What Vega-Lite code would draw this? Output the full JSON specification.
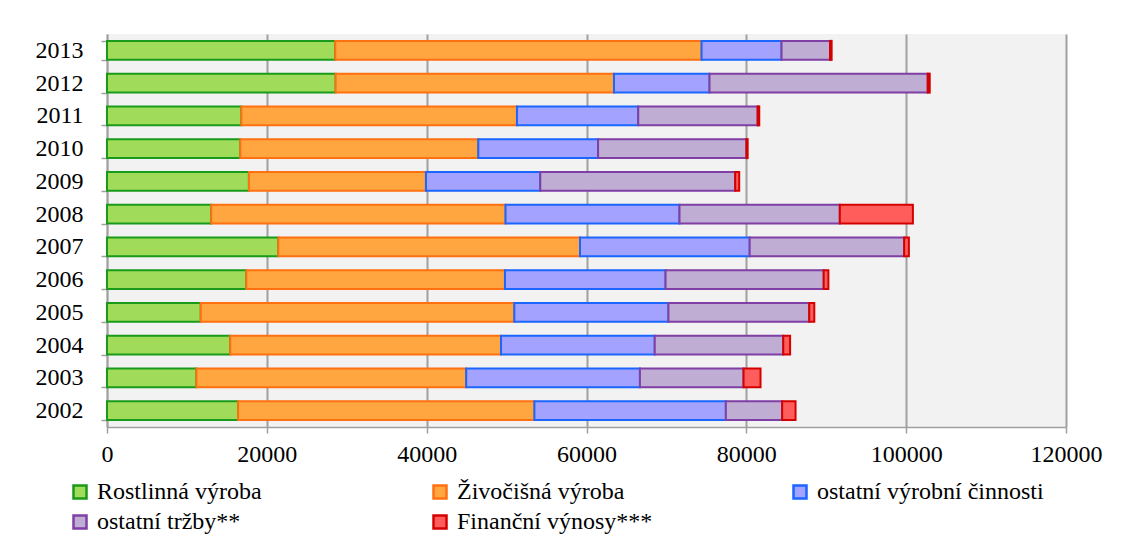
{
  "$schema": "https://vega.github.io/schema/vega-lite/v6.json",
  "autosize": {"type": "none"},
  "width": 959,
  "height": 393,
  "padding": {"left": 107, "top": 34, "right": 61, "bottom": 118},
  "background": "white",
  "config": {
    "font": "Liberation Serif, Times New Roman, serif",
    "axis": {"labelFont": "Liberation Serif, Times New Roman, serif"},
    "legend": {"labelFont": "Liberation Serif, Times New Roman, serif"},
    "view": {"fill": "#f2f2f2", "stroke": null}
  },
  "data": {
    "values": [
      {"rok": "2013", "kategorie": "Rostlinná výroba", "hodnota": 28565},
      {"rok": "2013", "kategorie": "Živočišná výroba", "hodnota": 45834},
      {"rok": "2013", "kategorie": "ostatní výrobní činnosti", "hodnota": 10007},
      {"rok": "2013", "kategorie": "ostatní tržby**", "hodnota": 6067},
      {"rok": "2013", "kategorie": "Finanční výnosy***", "hodnota": 200},
      {"rok": "2012", "kategorie": "Rostlinná výroba", "hodnota": 28610},
      {"rok": "2012", "kategorie": "Živočišná výroba", "hodnota": 34831},
      {"rok": "2012", "kategorie": "ostatní výrobní činnosti", "hodnota": 11954},
      {"rok": "2012", "kategorie": "ostatní tržby**", "hodnota": 27304},
      {"rok": "2012", "kategorie": "Finanční výnosy***", "hodnota": 250},
      {"rok": "2011", "kategorie": "Rostlinná výroba", "hodnota": 16816},
      {"rok": "2011", "kategorie": "Živočišná výroba", "hodnota": 34484},
      {"rok": "2011", "kategorie": "ostatní výrobní činnosti", "hodnota": 15175},
      {"rok": "2011", "kategorie": "ostatní tržby**", "hodnota": 14942},
      {"rok": "2011", "kategorie": "Finanční výnosy***", "hodnota": 200},
      {"rok": "2010", "kategorie": "Rostlinná výroba", "hodnota": 16682},
      {"rok": "2010", "kategorie": "Živočišná výroba", "hodnota": 29775},
      {"rok": "2010", "kategorie": "ostatní výrobní činnosti", "hodnota": 14992},
      {"rok": "2010", "kategorie": "ostatní tržby**", "hodnota": 18565},
      {"rok": "2010", "kategorie": "Finanční výnosy***", "hodnota": 150},
      {"rok": "2009", "kategorie": "Rostlinná výroba", "hodnota": 17758},
      {"rok": "2009", "kategorie": "Živočišná výroba", "hodnota": 22152},
      {"rok": "2009", "kategorie": "ostatní výrobní činnosti", "hodnota": 14305},
      {"rok": "2009", "kategorie": "ostatní tržby**", "hodnota": 24395},
      {"rok": "2009", "kategorie": "Finanční výnosy***", "hodnota": 498},
      {"rok": "2008", "kategorie": "Rostlinná výroba", "hodnota": 13049},
      {"rok": "2008", "kategorie": "Živočišná výroba", "hodnota": 36816},
      {"rok": "2008", "kategorie": "ostatní výrobní činnosti", "hodnota": 21772},
      {"rok": "2008", "kategorie": "ostatní tržby**", "hodnota": 20059},
      {"rok": "2008", "kategorie": "Finanční výnosy***", "hodnota": 9146},
      {"rok": "2007", "kategorie": "Rostlinná výroba", "hodnota": 21438},
      {"rok": "2007", "kategorie": "Živočišná výroba", "hodnota": 37749},
      {"rok": "2007", "kategorie": "ostatní výrobní činnosti", "hodnota": 21231},
      {"rok": "2007", "kategorie": "ostatní tržby**", "hodnota": 19334},
      {"rok": "2007", "kategorie": "Finanční výnosy***", "hodnota": 587},
      {"rok": "2006", "kategorie": "Rostlinná výroba", "hodnota": 17438},
      {"rok": "2006", "kategorie": "Živočišná výroba", "hodnota": 32360},
      {"rok": "2006", "kategorie": "ostatní výrobní činnosti", "hodnota": 20095},
      {"rok": "2006", "kategorie": "ostatní tržby**", "hodnota": 19787},
      {"rok": "2006", "kategorie": "Finanční výnosy***", "hodnota": 587},
      {"rok": "2005", "kategorie": "Rostlinná výroba", "hodnota": 11730},
      {"rok": "2005", "kategorie": "Živočišná výroba", "hodnota": 39236},
      {"rok": "2005", "kategorie": "ostatní výrobní činnosti", "hodnota": 19288},
      {"rok": "2005", "kategorie": "ostatní tržby**", "hodnota": 17618},
      {"rok": "2005", "kategorie": "Finanční výnosy***", "hodnota": 633},
      {"rok": "2004", "kategorie": "Rostlinná výroba", "hodnota": 15416},
      {"rok": "2004", "kategorie": "Živočišná výroba", "hodnota": 33887},
      {"rok": "2004", "kategorie": "ostatní výrobní činnosti", "hodnota": 19234},
      {"rok": "2004", "kategorie": "ostatní tržby**", "hodnota": 16082},
      {"rok": "2004", "kategorie": "Finanční výnosy***", "hodnota": 859},
      {"rok": "2003", "kategorie": "Rostlinná výroba", "hodnota": 11191},
      {"rok": "2003", "kategorie": "Živočišná výroba", "hodnota": 33753},
      {"rok": "2003", "kategorie": "ostatní výrobní činnosti", "hodnota": 21742},
      {"rok": "2003", "kategorie": "ostatní tržby**", "hodnota": 12966},
      {"rok": "2003", "kategorie": "Finanční výnosy***", "hodnota": 2123},
      {"rok": "2002", "kategorie": "Rostlinná výroba", "hodnota": 16404},
      {"rok": "2002", "kategorie": "Živočišná výroba", "hodnota": 37079},
      {"rok": "2002", "kategorie": "ostatní výrobní činnosti", "hodnota": 23955},
      {"rok": "2002", "kategorie": "ostatní tržby**", "hodnota": 7047},
      {"rok": "2002", "kategorie": "Finanční výnosy***", "hodnota": 1672}
    ]
  },
  "transform": [
    {"calculate": "indexof(['Rostlinná výroba', 'Živočišná výroba', 'ostatní výrobní činnosti', 'ostatní tržby**', 'Finanční výnosy***'], datum.kategorie)", "as": "poradi"}
  ],
  "mark": {"type": "bar", "strokeWidth": 2, "fillOpacity": 1},
  "encoding": {
    "y": {
      "field": "rok",
      "type": "ordinal",
      "sort": "descending",
      "scale": {"paddingInner": 0.42, "paddingOuter": 0.21},
      "axis": {
        "title": null,
        "labelFont": "Liberation Serif, Times New Roman, serif",
        "labelFontSize": 24,
        "labelColor": "#000000",
        "labelPadding": 18,
        "tickSize": 6,
        "tickBand": "extent",
        "tickColor": "#a0a0a0",
        "tickWidth": 1.5,
        "domainColor": "#a0a0a0",
        "domainWidth": 1.5,
        "grid": false
      }
    },
    "x": {
      "field": "hodnota",
      "type": "quantitative",
      "stack": "zero",
      "scale": {"domain": [0, 120000], "nice": false},
      "axis": {
        "title": null,
        "values": [0, 20000, 40000, 60000, 80000, 100000, 120000],
        "format": "d",
        "labelFont": "Liberation Serif, Times New Roman, serif",
        "labelFontSize": 24,
        "labelColor": "#000000",
        "labelPadding": 9,
        "tickSize": 6,
        "tickColor": "#a0a0a0",
        "tickWidth": 1.5,
        "domainColor": "#a0a0a0",
        "domainWidth": 1.5,
        "grid": true,
        "gridColor": "#a0a0a0",
        "gridWidth": 2,
        "labelFlush": false
      }
    },
    "order": {"field": "poradi", "type": "quantitative", "sort": "ascending"},
    "fill": {
      "field": "kategorie",
      "type": "nominal",
      "sort": ["Rostlinná výroba", "Živočišná výroba", "ostatní výrobní činnosti", "ostatní tržby**", "Finanční výnosy***"],
      "scale": {
        "domain": ["Rostlinná výroba", "Živočišná výroba", "ostatní výrobní činnosti", "ostatní tržby**", "Finanční výnosy***"],
        "range": ["#a0dc5a", "#ffa640", "#a3a3ff", "#bfadd3", "#ff5c5c"]
      },
      "legend": {
        "title": null,
        "orient": "none",
        "direction": "horizontal",
        "legendX": -39,
        "legendY": 446,
        "columns": 3,
        "gridAlign": "all",
        "columnPadding": 104,
        "rowPadding": 6,
        "padding": 0,
        "symbolType": "square",
        "symbolSize": 169,
        "symbolStrokeWidth": 2.5,
        "labelFont": "Liberation Serif, Times New Roman, serif",
        "labelFontSize": 24,
        "labelColor": "#000000",
        "labelOffset": 5,
        "labelLimit": 400
      }
    },
    "stroke": {
      "field": "kategorie",
      "type": "nominal",
      "sort": ["Rostlinná výroba", "Živočišná výroba", "ostatní výrobní činnosti", "ostatní tržby**", "Finanční výnosy***"],
      "scale": {
        "domain": ["Rostlinná výroba", "Živočišná výroba", "ostatní výrobní činnosti", "ostatní tržby**", "Finanční výnosy***"],
        "range": ["#1a9a1a", "#ff7010", "#1a66ff", "#7f3fa5", "#d40000"]
      },
      "legend": {
        "title": null,
        "orient": "none",
        "direction": "horizontal",
        "legendX": -39,
        "legendY": 446,
        "columns": 3,
        "gridAlign": "all",
        "columnPadding": 104,
        "rowPadding": 6,
        "padding": 0,
        "symbolType": "square",
        "symbolSize": 169,
        "symbolStrokeWidth": 2.5,
        "labelFont": "Liberation Serif, Times New Roman, serif",
        "labelFontSize": 24,
        "labelColor": "#000000",
        "labelOffset": 5,
        "labelLimit": 400
      }
    }
  }
}
